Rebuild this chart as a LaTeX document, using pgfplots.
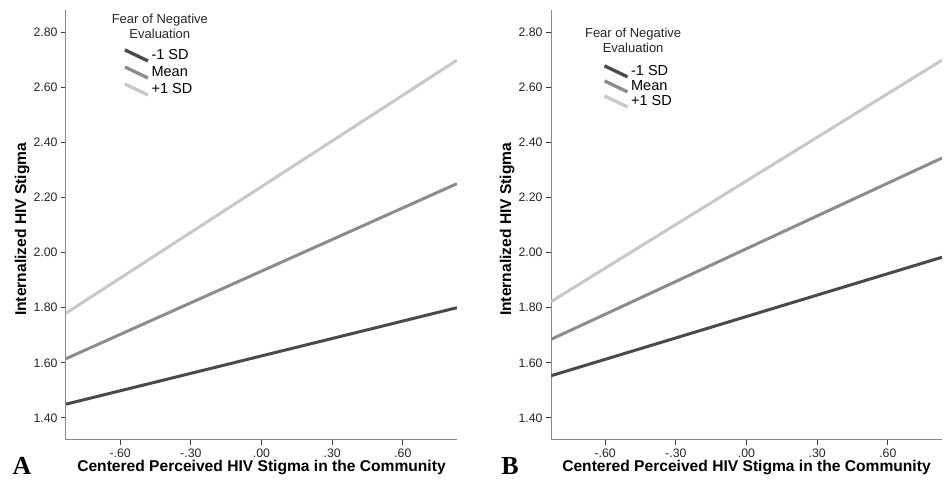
\documentclass[border=0pt]{standalone}
\usepackage{fontspec}
\setmainfont{Liberation Sans}
\newfontfamily\timesfont{Liberation Serif}
\usepackage{pgfplots}
\pgfplotsset{compat=1.18}

\definecolor{dk}{HTML}{4A4A4A}
\definecolor{md}{HTML}{8C8C8C}
\definecolor{lt}{HTML}{C8C8C8}
\definecolor{axc}{HTML}{8A8A8A}

\pgfplotsset{
  panel/.style={
    scale only axis, width=391pt, height=430pt,
    xmin=-0.83, xmax=0.83, ymin=1.32, ymax=2.88,
    axis lines=left,
    axis line style={draw=axc, line width=1pt, -},
    xtick={-0.6,-0.3,0,0.3,0.6},
    xticklabels={-.60,-.30,.00,.30,.60},
    ytick={1.4,1.6,1.8,2.0,2.2,2.4,2.6,2.8},
    yticklabel style={/pgf/number format/.cd, fixed, fixed zerofill, precision=2},
    /pgf/number format/assume math mode=true,
    tick style={draw=black!75, line width=0.9pt},
    major tick length=5pt, tick align=outside,
    ticklabel style={font=\fontsize{12.3}{14}\selectfont, text=black!85},
    xlabel={Centered Perceived HIV Stigma in the Community},
    ylabel={Internalized HIV Stigma},
    label style={font=\bfseries\fontsize{15.6}{18}\selectfont},
    xlabel style={at={(axis description cs:0.5,-0.063)}, anchor=center},
    ylabel style={at={(axis description cs:-0.1125,0.49)}, anchor=center},
    clip=true,
    legend cell align=left,
    legend image code/.code={\draw[#1, line width=3.3pt] (0pt,5.5pt) -- (23pt,-5.5pt);},
  },
  dkline/.style={color=dk, line width=3pt},
  mdline/.style={color=md, line width=3pt},
  ltline/.style={color=lt, line width=3pt},
}

\pgfplotstableread{
x     lo     mid    hi
-0.83 1.450  1.615  1.780
0.83  1.800  2.250  2.698
}\dataA
\pgfplotstableread{
x     lo     mid    hi
-0.83 1.553  1.685  1.822
0.83  1.983  2.343  2.698
}\dataB

\begin{document}
\begin{tikzpicture}
\useasboundingbox (0pt,0pt) rectangle (948pt,484pt);

\begin{axis}[panel, at={(66pt,44pt)}, anchor=south west,
  legend style={at={(axis description cs:0.146,0.913)}, anchor=north west,
    draw=none, fill=none, font=\fontsize{14.5}{16}\selectfont,
    row sep=1.5pt, inner sep=0pt,
    /tikz/every even column/.append style={column sep=3pt}}]
  \addplot[dkline] table[x=x, y=lo] {\dataA};
  \addlegendentry{-1 SD}
  \addplot[mdline] table[x=x, y=mid] {\dataA};
  \addlegendentry{Mean}
  \addplot[ltline] table[x=x, y=hi] {\dataA};
  \addlegendentry{+1 SD}
  \node[font=\fontsize{13}{15}\selectfont, align=center, anchor=north, text=black!85]
    at (axis description cs:0.24,0.998) {Fear of Negative\\Evaluation};
\end{axis}

\begin{axis}[panel, at={(551pt,44pt)}, anchor=south west,
  legend style={at={(axis description cs:0.132,0.876)}, anchor=north west,
    draw=none, fill=none, font=\fontsize{14.5}{16}\selectfont,
    row sep=-0.5pt, inner sep=0pt,
    /tikz/every even column/.append style={column sep=3pt}}]
  \addplot[dkline] table[x=x, y=lo] {\dataB};
  \addlegendentry{-1 SD}
  \addplot[mdline] table[x=x, y=mid] {\dataB};
  \addlegendentry{Mean}
  \addplot[ltline] table[x=x, y=hi] {\dataB};
  \addlegendentry{+1 SD}
  \node[font=\fontsize{13}{15}\selectfont, align=center, anchor=north, text=black!85]
    at (axis description cs:0.21,0.965) {Fear of Negative\\Evaluation};
\end{axis}

\node[font=\timesfont\bfseries\fontsize{26}{26}\selectfont, anchor=base] at (22pt,9pt) {A};
\node[font=\timesfont\bfseries\fontsize{26}{26}\selectfont, anchor=base] at (510pt,9pt) {B};
\end{tikzpicture}
\end{document}
